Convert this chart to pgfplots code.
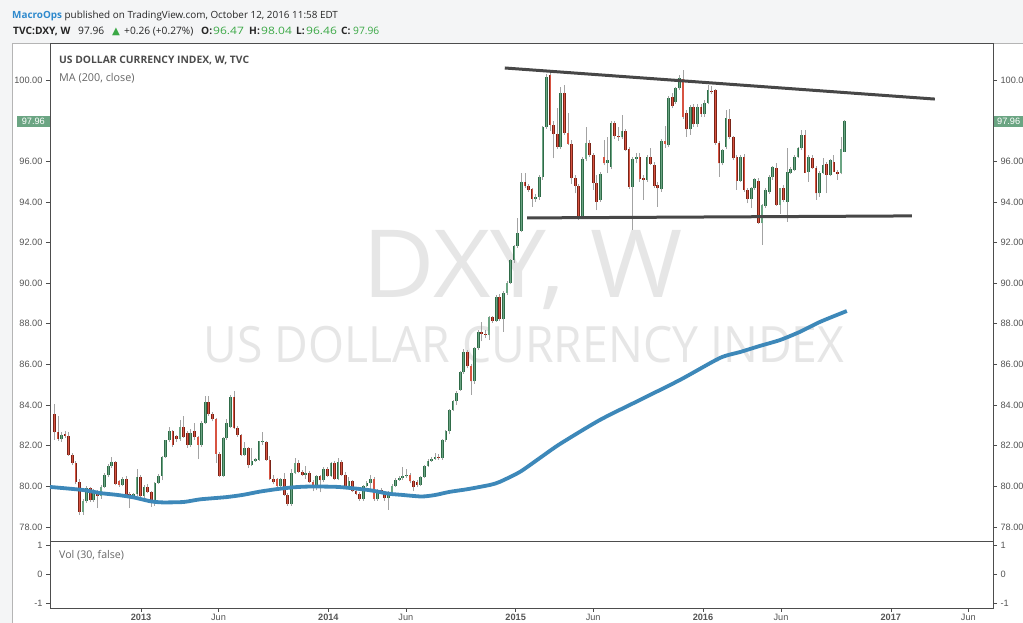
\documentclass[border=0pt]{standalone}
\usepackage{fontspec}
\setmainfont{Open Sans}
\newfontfamily\arialf{Liberation Sans}
\newfontfamily\dejavu{DejaVu Sans}
\usepackage{pgfplots}
\pgfplotsset{compat=1.18}
\usepackage{pgfplotstable}
\definecolor{upfill}{HTML}{6BA583}
\definecolor{upedge}{HTML}{2F6B48}
\definecolor{dnfill}{HTML}{D75442}
\definecolor{dnedge}{HTML}{7A2418}
\definecolor{wick}{HTML}{A3A3A3}
\definecolor{macolor}{HTML}{3D88B9}
\definecolor{tline}{HTML}{474747}
\definecolor{axisc}{HTML}{4D4D4D}
\definecolor{labc}{HTML}{555555}
\definecolor{wm}{HTML}{E6E6E6}
\definecolor{pricec}{HTML}{6BA583}
\definecolor{hdrgreen}{HTML}{3AA845}
\definecolor{macroblue}{HTML}{2F8ACD}
\definecolor{bgout}{HTML}{F4F5F6}
\definecolor{framec}{HTML}{B5B5B5}

\pgfplotstableread{
i o h l c
0 83.55 84.06 82.30 82.65
1 82.65 83.45 82.25 82.35
2 82.35 82.65 82.20 82.55
3 82.55 82.70 82.40 82.50
4 82.50 82.65 81.50 81.55
5 81.55 81.65 81.05 81.15
6 81.15 81.25 80.10 80.19
7 80.19 80.35 78.60 78.76
8 78.76 79.40 78.60 79.26
9 79.26 80.00 79.20 79.91
10 79.91 79.98 79.25 79.31
11 79.31 79.85 79.25 79.75
12 79.75 79.80 78.93 79.53
13 79.53 80.05 79.40 79.99
14 79.99 80.65 79.90 80.57
15 80.57 81.10 80.45 81.01
16 81.01 81.44 80.90 81.20
17 81.20 81.25 80.05 80.12
18 80.24 80.30 79.98 80.07
19 80.07 80.45 80.00 80.37
20 80.37 80.50 79.50 79.55
21 79.62 79.70 78.93 79.52
22 79.52 79.65 79.40 79.60
23 79.60 80.85 79.50 80.45
24 80.45 80.55 79.45 79.50
25 79.50 80.05 79.40 79.99
26 79.99 80.10 79.65 79.70
27 79.70 79.75 79.00 79.18
28 79.18 80.20 79.05 80.16
29 80.16 80.60 80.10 80.52
30 80.52 81.50 80.30 81.44
31 81.44 82.30 81.40 82.26
32 82.26 82.94 82.20 82.70
33 82.70 82.75 81.95 82.04
34 82.48 82.55 82.20 82.32
35 82.32 83.27 82.25 82.94
36 82.94 83.47 82.40 82.45
37 82.62 82.70 81.90 82.04
38 82.04 82.80 81.95 82.62
39 82.70 83.14 82.30 82.42
40 82.42 82.50 81.34 82.04
41 82.04 83.20 81.95 83.11
42 83.11 84.45 83.05 84.17
43 84.17 84.45 83.45 83.55
44 83.55 83.65 83.20 83.30
45 83.30 83.35 81.14 81.60
46 81.60 81.70 80.45 80.52
47 80.52 82.45 80.45 82.37
48 82.37 83.30 82.30 83.14
49 82.90 84.50 82.86 84.42
50 84.42 84.71 82.80 82.86
51 82.86 82.95 82.45 82.53
52 82.53 82.60 81.50 81.55
53 81.55 82.16 81.50 81.88
54 81.88 81.95 80.90 81.06
55 81.06 81.88 81.00 81.27
56 81.27 81.40 81.20 81.32
57 81.32 82.25 81.25 82.21
58 82.16 82.65 82.05 82.20
59 82.20 82.25 81.25 81.30
60 81.30 81.47 80.30 80.35
61 80.35 80.55 80.10 80.19
62 80.35 80.40 79.95 80.03
63 80.03 80.40 79.95 80.35
64 80.35 80.65 79.50 79.58
65 79.58 79.65 79.04 79.14
66 79.14 80.85 79.04 80.68
67 80.68 81.39 80.60 81.14
68 81.14 81.30 80.65 80.73
69 80.73 80.80 80.50 80.57
70 80.57 80.98 80.35 80.68
71 80.68 80.75 80.15 80.19
72 80.19 80.30 79.75 80.07
73 80.07 80.55 79.80 80.49
74 80.49 80.55 79.70 80.29
75 80.29 80.95 80.20 80.85
76 80.85 80.95 80.45 80.52
77 80.52 81.20 80.45 81.14
78 81.14 81.25 80.30 80.35
79 80.35 81.40 80.30 81.22
80 81.22 81.30 80.50 80.57
81 80.57 80.70 79.95 80.03
82 80.03 80.45 79.95 80.24
83 80.24 80.30 79.70 79.75
84 79.75 79.85 79.55 79.63
85 79.63 79.70 79.30 79.37
86 79.37 80.08 79.30 80.03
87 80.03 80.25 79.95 80.16
88 80.16 80.55 79.70 80.37
89 80.37 80.45 79.30 79.37
90 79.37 79.85 79.30 79.80
91 79.80 79.90 79.65 79.70
92 79.70 79.75 79.30 79.42
93 79.42 79.75 78.85 79.67
94 79.67 80.10 79.60 80.03
95 80.03 80.40 79.95 80.32
96 80.32 80.50 80.25 80.40
97 80.40 80.94 80.30 80.49
98 80.49 80.85 80.40 80.57
99 80.57 80.65 80.15 80.24
100 80.24 80.30 79.75 79.96
101 80.20 80.30 79.95 80.07
102 80.07 80.50 80.00 80.45
103 80.45 81.05 80.40 81.01
104 81.01 81.35 80.95 81.27
105 81.27 81.45 81.20 81.37
106 81.37 81.65 81.30 81.44
107 81.44 81.60 81.30 81.39
108 81.39 82.35 81.30 82.29
109 82.29 82.75 82.20 82.70
110 82.70 83.80 82.60 83.77
111 83.77 84.25 83.70 84.18
112 84.18 84.70 84.00 84.59
113 84.75 85.70 84.70 85.65
114 85.65 86.75 85.55 86.63
115 86.63 86.70 85.80 85.90
116 85.90 86.00 84.50 85.16
117 85.16 86.85 85.05 86.80
118 86.80 87.70 86.70 87.60
119 87.60 88.11 87.13 87.50
120 87.50 87.70 87.30 87.45
121 87.45 88.40 87.21 88.31
122 88.31 88.40 88.05 88.15
123 88.15 89.40 88.10 89.34
124 89.34 89.45 88.15 88.22
125 88.22 89.60 87.62 89.54
126 89.54 90.10 89.42 90.00
127 90.00 91.20 89.95 91.14
128 91.14 91.90 91.00 91.83
129 91.83 93.19 91.75 92.45
130 92.58 95.40 92.50 95.00
131 95.00 95.41 94.70 94.78
132 94.78 94.90 94.50 94.59
133 94.62 94.70 93.77 94.13
134 94.13 94.40 94.00 94.26
135 94.23 95.32 94.10 95.24
136 95.21 97.75 95.10 97.67
137 97.67 100.29 97.60 100.16
138 100.24 100.39 97.50 97.78
139 97.78 98.00 96.14 97.34
140 97.34 98.60 96.60 96.69
141 96.69 99.67 96.60 99.34
142 99.34 99.75 97.30 97.41
143 97.41 98.36 96.80 96.85
144 96.85 97.05 94.90 95.16
145 95.16 95.30 94.42 94.78
146 94.78 94.90 93.13 93.24
147 93.24 96.20 93.15 96.10
148 96.10 97.70 96.00 96.88
149 96.88 97.05 96.20 96.31
150 96.31 96.40 94.59 94.95
151 94.95 95.30 93.60 94.01
152 94.10 95.45 94.00 95.37
153 96.23 97.05 95.80 95.90
154 95.93 97.21 95.41 96.06
155 95.74 98.00 95.60 97.90
156 97.90 98.00 97.10 97.24
157 97.24 97.70 97.00 97.18
158 97.18 98.28 97.10 97.50
159 97.50 97.60 96.50 96.56
160 96.59 96.70 94.65 94.75
161 94.75 96.20 92.62 96.10
162 96.10 96.40 95.90 96.20
163 96.20 96.40 95.00 95.11
164 95.16 95.30 94.10 95.08
165 95.08 96.30 95.00 96.19
166 96.19 96.64 95.80 95.87
167 95.82 95.95 94.70 94.78
168 94.83 95.00 93.77 94.67
169 94.62 97.10 94.50 97.01
170 97.01 97.73 96.64 96.85
171 96.80 99.20 96.70 99.09
172 99.14 99.34 98.60 98.72
173 98.93 99.65 98.80 99.59
174 99.59 100.24 99.50 100.08
175 100.03 100.49 98.10 98.19
176 98.36 98.50 97.21 97.57
177 97.57 98.75 97.30 98.69
178 98.69 98.80 97.70 97.83
179 97.83 98.80 97.70 98.69
180 98.69 98.80 98.20 98.33
181 98.33 99.00 98.20 98.88
182 98.88 99.75 98.80 99.50
183 99.47 99.70 99.30 99.42
184 99.50 99.55 96.80 96.91
185 96.91 97.00 95.24 95.90
186 95.90 96.60 95.80 96.55
187 96.69 98.52 96.60 98.11
188 98.06 98.55 97.10 97.18
189 97.18 97.25 96.05 96.14
190 96.20 96.30 94.60 95.05
191 95.05 96.30 95.00 96.23
192 96.23 96.35 94.50 94.59
193 94.59 94.70 93.93 94.13
194 94.13 94.75 93.69 94.67
195 94.67 95.20 94.60 95.11
196 95.05 95.16 92.90 92.98
197 92.95 93.90 91.88 93.85
198 93.80 94.70 93.70 94.59
199 94.51 95.30 94.40 95.24
200 95.24 95.75 95.10 95.70
201 95.65 95.90 93.80 93.85
202 93.85 94.70 93.41 94.67
203 94.67 94.83 94.00 94.10
204 94.01 96.64 93.03 95.49
205 95.44 95.70 95.35 95.60
206 95.57 96.30 95.50 96.23
207 96.23 96.70 96.15 96.64
208 96.64 97.54 96.55 97.29
209 97.29 97.54 95.40 95.44
210 95.49 96.30 95.00 96.23
211 96.15 96.30 95.60 95.65
212 95.65 95.75 94.10 94.42
213 94.42 95.50 94.26 95.44
214 95.41 96.15 95.35 95.82
215 95.87 95.95 94.42 95.33
216 95.33 96.10 95.25 96.06
217 95.98 96.31 95.45 95.49
218 95.49 95.55 95.08 95.37
219 95.41 97.21 95.35 96.59
220 96.47 98.04 96.46 97.96
}\dxy

\pgfplotsset{
  pane/.style={scale only axis, width=943pt, xmin=-1.2, xmax=261.3,
    anchor=south west, clip=false,
    axis line style={draw=axisc, line width=0.8pt},
    tick align=outside, major tick length=4pt,
    tick style={draw=axisc, line width=0.6pt},
    tick label style={font=\arialf\fontsize{9.2}{10}\selectfont, text=labc},
    /pgf/number format/assume math mode=true,
    /pgf/number format/1000 sep={},
  },
  pricefmt/.style={yticklabel style={/pgf/number format/fixed,
    /pgf/number format/fixed zerofill, /pgf/number format/precision=2}},
}

\begin{document}
\begin{tikzpicture}[x=1pt,y=1pt]
\path[use as bounding box] (0,0) rectangle (1023,623);
\clip (0,0) rectangle (1023,623);
\fill[bgout] (0,0) rectangle (1023,623);
\fill[white] (12,0) rectangle (1023,580);
\draw[framec, line width=0.8pt] (12,0) -- (12,580) -- (1023,580);
% header
\node[anchor=base west, inner sep=0pt, font=\fontsize{9.9}{11}\selectfont, text=black!85] at (12,604)
  {\textcolor{macroblue}{\bfseries MacroOps} published on TradingView.com, October 12, 2016 11:58 EDT};
\begin{scope}[every node/.style={anchor=base west, inner sep=0pt, font=\fontsize{10.2}{11}\selectfont, text=black!85}]
\node at (13,588.5) {\textbf{TVC:DXY, W}};
\node at (78,588.5) {97.96};
\node[text=hdrgreen] at (112,588.5) {\dejavu ▲};
\node at (124,588.5) {+0.26 (+0.27\%)};
\node at (201,588.5) {\textbf{O:}};
\node[text=hdrgreen] at (213,588.5) {\scalebox{1.18}[1]{96.47}};
\node at (249,588.5) {\textbf{H:}};
\node[text=hdrgreen] at (261,588.5) {\scalebox{1.18}[1]{98.04}};
\node at (296,588.5) {\textbf{L:}};
\node[text=hdrgreen] at (306,588.5) {\scalebox{1.18}[1]{96.46}};
\node at (341,588.5) {\textbf{C:}};
\node[text=hdrgreen] at (353,588.5) {97.96};
\end{scope}
% watermark
\node[anchor=base, inner sep=0pt, text=wm, font=\fontsize{94}{94}\selectfont] at (523,325) {\scalebox{1.06}[1]{DXY, W}};
\node[anchor=base, inner sep=0pt, text=wm, font=\fontsize{50}{50}\selectfont] at (524,260) {\scalebox{0.925}[1]{US DOLLAR CURRENCY INDEX}};
% pane texts
\node[anchor=base west, inner sep=0pt, text=black!70, font=\bfseries\fontsize{10.3}{11}\selectfont] at (59,559.7) {US DOLLAR CURRENCY INDEX, W, TVC};
\node[anchor=base west, inner sep=0pt, text=black!60, font=\fontsize{10.8}{12}\selectfont] at (59,541) {MA (200, close)};
\node[anchor=base west, inner sep=0pt, text=black!60, font=\fontsize{10.6}{12}\selectfont] at (59,64) {Vol (30, false)};

% main price pane
\begin{axis}[pane, pricefmt, at={(50pt,82pt)}, height=498pt, ymin=77.31, ymax=101.82,
  ytick={78,80,...,96,100}, extra y ticks={98}, extra y tick labels={},
  xtick=\empty, ytick pos=left]
\addplot[wick, line width=0.8pt, quiver={u=0, v=\thisrow{h}-\thisrow{l}}]
  table[x=i, y=l] {\dxy};
\addplot[upedge, line width=2.7pt, quiver={u=0, v={max(\thisrow{c}-\thisrow{o},0.06)}}]
  table[x=i, y expr={\thisrow{c}>=\thisrow{o} ? \thisrow{o} : nan}] {\dxy};
\addplot[upfill, line width=1.1pt, quiver={u=0, v={max(\thisrow{c}-\thisrow{o},0.06)}}]
  table[x=i, y expr={\thisrow{c}>=\thisrow{o} ? \thisrow{o} : nan}] {\dxy};
\addplot[dnedge, line width=2.7pt, quiver={u=0, v={max(\thisrow{o}-\thisrow{c},0.06)}}]
  table[x=i, y expr={\thisrow{c}<\thisrow{o} ? \thisrow{c} : nan}] {\dxy};
\addplot[dnfill, line width=1.1pt, quiver={u=0, v={max(\thisrow{o}-\thisrow{c},0.06)}}]
  table[x=i, y expr={\thisrow{c}<\thisrow{o} ? \thisrow{c} : nan}] {\dxy};
% MA(200)
\addplot[macolor, line width=3.8pt, smooth, tension=0.4] coordinates {
(-1.2,79.97) (8,79.82) (12.7,79.67) (17.4,79.58) (22,79.46) (26.6,79.27) (30,79.21)
(36,79.23) (40.6,79.36) (47.9,79.47) (52.5,79.58) (57.2,79.74) (61.8,79.86) (66.4,79.95)
(71.1,79.99) (79,79.97) (87.4,79.82) (93,79.64) (96.7,79.58) (102.2,79.50) (105.9,79.57)
(110.1,79.73) (115,79.86) (121.3,80.07) (124,80.22) (129.6,80.71) (135.2,81.40)
(140.8,82.09) (151.9,83.27) (163,84.25) (174.2,85.24) (185.3,86.32) (190.9,86.61)
(196.4,86.91) (202,87.20) (207.5,87.60) (213.1,88.09) (220.6,88.63)};
% trend lines
\addplot[tline, line width=3pt] coordinates {(125.4,100.59) (245.1,99.06)};
\addplot[tline, line width=3pt] coordinates {(131.6,93.21) (238.7,93.31)};
\node[fill=pricec, text=white, font=\arialf\fontsize{9.2}{10}\selectfont, anchor=east,
  inner xsep=5pt, inner ysep=2.6pt] at (axis cs:-1.2,97.96) {97.96};
\node[fill=pricec, text=white, font=\arialf\fontsize{9.2}{10}\selectfont, anchor=west,
  inner xsep=4pt, inner ysep=2.6pt] at (axis cs:261.3,97.96) {97.96};
\end{axis}
% right price labels
\begin{axis}[pane, pricefmt, at={(50pt,82pt)}, height=498pt, ymin=77.31, ymax=101.82,
  ytick={78,80,...,96,100}, xtick=\empty, axis x line=none, axis y line*=right]
\addplot[draw=none] coordinates {(0,80)};
\end{axis}
% volume pane
\begin{axis}[pane, at={(50pt,15pt)}, height=67pt, ymin=-1.172, ymax=1.138,
  ytick={-1,0,1}, yticklabels={-1,0,1}, ytick pos=left, xtick pos=bottom,
  xtick={24.14,45.71,76.29,97.86,128.43,150,180.57,202.29,232.86,254.43},
  xticklabels={\textbf{2013},Jun,\textbf{2014},Jun,\textbf{2015},Jun,\textbf{2016},Jun,\textbf{2017},Jun},
  xticklabel style={yshift=1pt}]
\addplot[draw=none] coordinates {(0,0)};
\end{axis}
\begin{axis}[pane, at={(50pt,15pt)}, height=67pt, ymin=-1.172, ymax=1.138,
  ytick={-1,0,1}, yticklabels={-1,0,1}, xtick=\empty, axis x line=none, axis y line*=right]
\addplot[draw=none] coordinates {(0,0)};
\end{axis}
\end{tikzpicture}
\end{document}
